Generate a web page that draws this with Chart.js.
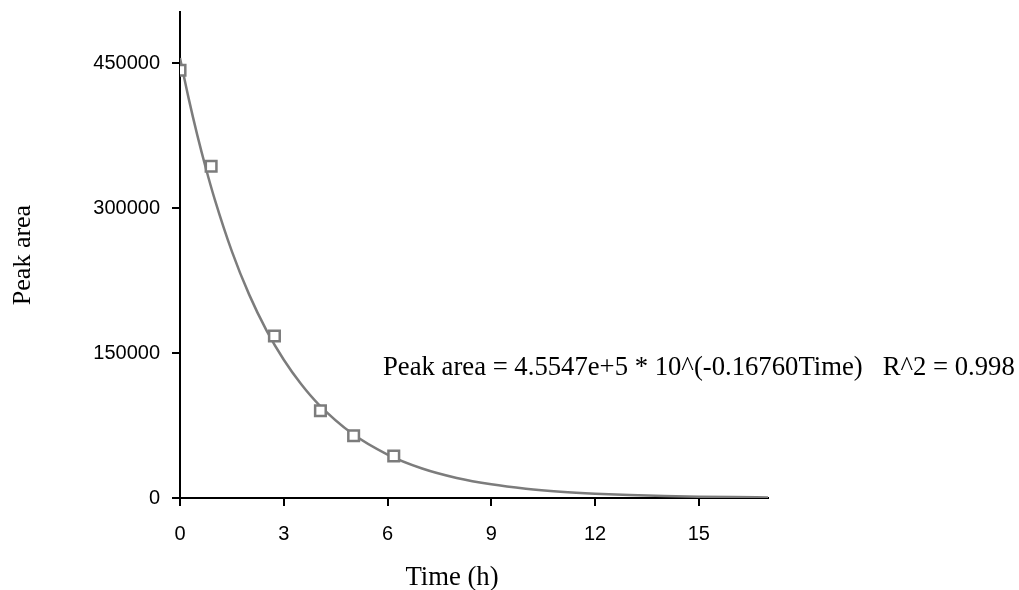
<!DOCTYPE html>
<html>
<head>
<meta charset="utf-8">
<script src="https://cdn.jsdelivr.net/npm/chart.js@4/dist/chart.umd.min.js"></script>
<style>
  html, body { margin: 0; padding: 0; background: #fff; }
  #wrap { width: 1019px; height: 590px; }
</style>
</head>
<body>
<div id="wrap"><canvas id="grafik" width="1019" height="590"></canvas></div>
<script>
// === DATA ===
const waktuUkur = [0, 0.9, 2.73, 4.06, 5.02, 6.18];
const areaUkur = [442700, 343400, 167600, 90300, 64400, 43400];

// kurva fit (dibaca titik per titik dari garis)
const waktuKurva = [0, 0.25, 0.5, 0.75, 1, 1.5, 2, 2.5, 3, 3.5, 4, 5, 6, 7, 8, 9, 10, 11, 12, 13, 14, 15, 16, 17];
const areaKurva = [455470, 413600, 375540, 341020, 309630, 255290, 210490, 173550, 143090, 117980, 97270,
  66130, 44950, 30560, 20780, 14120, 9600, 6530, 4440, 3020, 2050, 1390, 950, 645];

const xTicks = [0, 3, 6, 9, 12, 15];
const yTicks = [0, 150000, 300000, 450000];

const judulX = 'Time (h)';
const judulY = 'Peak area';
const teksFit = 'Peak area = 4.5547e+5 * 10^(-0.16760Time)   R^2 = 0.998';

const SERIF = '"Liberation Serif", "Times New Roman", serif';
const SANS = '"Liberation Sans", Arial, sans-serif';
const ABU = '#7c7c7c';

// === PLUGIN: teks tambahan ===
const teksPlugin = {
  id: 'teksPlugin',
  afterDraw(chart) {
    const ctx = chart.ctx;
    const area = chart.chartArea;
    ctx.save();
    ctx.fillStyle = '#000';
    ctx.font = '26.7px ' + SERIF;
    ctx.textBaseline = 'alphabetic';
    ctx.textAlign = 'left';
    ctx.fillText(teksFit, area.left + 203, 375);
    ctx.textAlign = 'center';
    ctx.fillText(judulX, area.left + 272, 585);
    ctx.restore();
  }
};

const toPts = (xs, ys) => xs.map((x, i) => ({ x, y: ys[i] }));

new Chart(document.getElementById('grafik').getContext('2d'), {
  type: 'scatter',
  data: {
    datasets: [
      {
        label: 'Data',
        data: toPts(waktuUkur, areaUkur),
        pointStyle: 'rect',
        pointRadius: 7.5,
        pointBorderWidth: 2.5,
        pointBorderColor: ABU,
        pointBackgroundColor: '#fff',
        showLine: false,
        order: 0,
      },
      {
        label: 'Fit',
        data: toPts(waktuKurva, areaKurva),
        showLine: true,
        borderColor: ABU,
        borderWidth: 2.5,
        pointRadius: 0,
        cubicInterpolationMode: 'monotone',
        order: 1,
      }
    ]
  },
  options: {
    responsive: false,
    animation: false,
    layout: { padding: { top: 12, right: 251, left: 0, bottom: 0 } },
    plugins: { legend: { display: false }, tooltip: { enabled: false } },
    scales: {
      x: {
        type: 'linear',
        min: 0, max: 17,
        afterBuildTicks: (s) => { s.ticks = xTicks.map(v => ({ value: v })); },
        afterFit: (s) => { s.height = 92; },
        border: { color: '#000', width: 2 },
        grid: { drawOnChartArea: false, drawTicks: true, tickLength: 8, color: '#000', lineWidth: 2 },
        ticks: { color: '#000', font: { family: SANS, size: 20 }, padding: 16, maxRotation: 0 },
      },
      y: {
        type: 'linear',
        min: 0, max: 503000,
        afterBuildTicks: (s) => { s.ticks = yTicks.map(v => ({ value: v })); },
        afterFit: (s) => { s.width = 180; s.paddingTop = 0; s.paddingBottom = 0; },
        border: { color: '#000', width: 2 },
        grid: { drawOnChartArea: false, drawTicks: true, tickLength: 8, color: '#000', lineWidth: 2 },
        ticks: { color: '#000', font: { family: SANS, size: 20 }, padding: 12, callback: (v) => String(v) },
        title: { display: true, text: judulY, color: '#000', font: { family: SERIF, size: 26 }, padding: { top: 8, bottom: 0 } },
      }
    }
  },
  plugins: [teksPlugin]
});
</script>
</body>
</html>
